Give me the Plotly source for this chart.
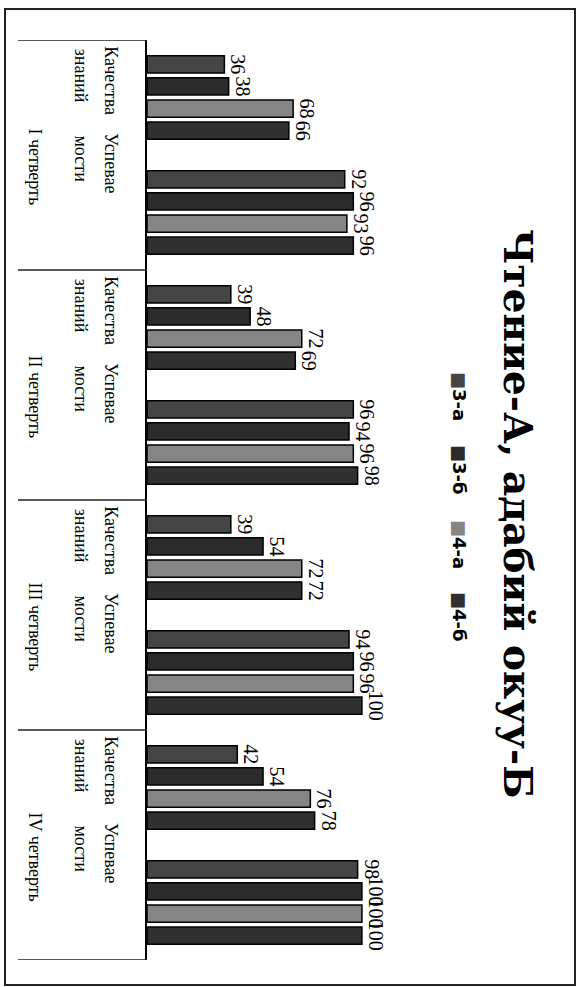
import plotly.graph_objects as go

# ---------------- data ----------------
quarters = ["I четверть", "II четверть", "III четверть", "IV четверть"]
sub_top = ["Качества", "Успевае"]
sub_bottom = ["знаний", "мости"]
series = ["3-а", "3-б", "4-а", "4-б"]

v_3a = [36, 92, 39, 96, 39, 94, 42, 98]
v_3b = [38, 96, 48, 94, 54, 96, 54, 100]
v_4a = [68, 93, 72, 96, 72, 96, 76, 100]
v_4b = [66, 96, 69, 98, 72, 100, 78, 100]

title_text = "Чтение-А, адабий окуу-Б"
colors = ["#454545", "#2b2b2b", "#858585", "#303030"]

# ---------------- geometry helpers ----------------
W, H = 580, 987
ML, MR, MT, MB = 147, 145, 40, 27
PW = W - ML - MR
PH = H - MT - MB


def px(x):
    return (x - ML) / PW


def py(y):
    return 1 - (y - MT) / PH


cats = [f"{q} | {a} {b}" for q in quarters for a, b in zip(sub_top, sub_bottom)]

fig = go.Figure()
for name, vals, col in zip(series, [v_3a, v_3b, v_4a, v_4b], colors):
    fig.add_trace(go.Bar(
        y=cats, x=vals, orientation="h", name=name,
        marker=dict(color=col, line=dict(color="black", width=1.5)),
        text=[str(v) for v in vals], textposition="outside", textangle=90,
        textfont=dict(family="Liberation Serif", size=20, color="black"),
        cliponaxis=False, constraintext="none",
    ))

fig.update_layout(
    width=W, height=H,
    margin=dict(l=ML, r=MR, t=MT, b=MB),
    barmode="group", bargap=0.23, bargroupgap=0.22,
    showlegend=False,
    plot_bgcolor="white", paper_bgcolor="white",
    xaxis=dict(range=[0, 134], showgrid=False, zeroline=False,
               showticklabels=False, ticks=""),
    yaxis=dict(categoryorder="array", categoryarray=cats, range=[7.5, -0.5],
               showticklabels=False, ticks="", showgrid=False,
               showline=True, linecolor="black", linewidth=1.5),
)

shapes = []
# outer frame
shapes.append(dict(type="rect", xref="paper", yref="paper",
                   x0=px(5), x1=px(575), y0=py(985), y1=py(9),
                   line=dict(color="#222", width=2)))
# table horizontal lines
for b in [-0.5, 1.5, 3.5, 5.5, 7.5]:
    shapes.append(dict(type="line", xref="paper", yref="y",
                       x0=px(18), x1=0, y0=b, y1=b,
                       line=dict(color="#222", width=1.3)))
fig.update_layout(shapes=shapes)

ann = []
lab_font = dict(family="Liberation Serif", size=18, color="black")
offsets = [-0.15, -0.43]
for i, q in enumerate(quarters):
    for j in range(2):
        yy = 2 * i + j + offsets[j]
        ann.append(dict(text=sub_top[j], xref="paper", yref="y", x=px(111), y=yy,
                        textangle=90, showarrow=False, font=lab_font,
                        xanchor="center", yanchor="middle"))
        ann.append(dict(text=sub_bottom[j], xref="paper", yref="y", x=px(81), y=yy - 0.04,
                        textangle=90, showarrow=False, font=lab_font,
                        xanchor="center", yanchor="middle"))
    ann.append(dict(text=q, xref="paper", yref="y", x=px(35), y=2 * i + 0.6,
                    textangle=90, showarrow=False, font=lab_font,
                    xanchor="center", yanchor="middle"))

# title
ann.append(dict(text="<b>" + title_text + "</b>", xref="paper", yref="paper",
                x=px(518), y=py(514), textangle=90, showarrow=False,
                font=dict(family="DejaVu Serif", size=39, color="black"),
                xanchor="center", yanchor="middle"))

# legend
leg_y = [396, 470, 544, 617]
for name, col, ly in zip(series, colors, leg_y):
    ann.append(dict(text=f'<span style="color:{col}">■</span><b>{name}</b>',
                    xref="paper", yref="paper", x=px(460), y=py(ly),
                    textangle=90, showarrow=False,
                    font=dict(family="DejaVu Sans", size=18, color="black"),
                    xanchor="center", yanchor="middle"))

fig.update_layout(annotations=ann)
fig.write_html("out.html", config={"displayModeBar": False},
               post_script="document.body.style.margin='0';")
